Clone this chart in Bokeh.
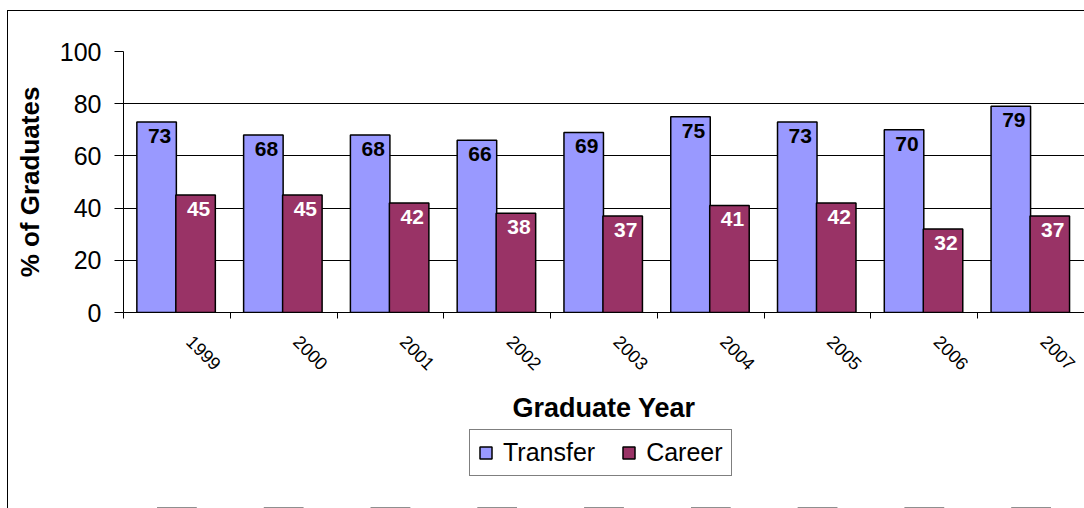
import math
from bokeh.plotting import figure
from bokeh.layouts import column
from bokeh.models import ColumnDataSource, Range1d, FixedTicker, Legend, LegendItem, InlineStyleSheet
from bokeh.core.properties import value
from bokeh.transform import dodge
from bokeh.embed import file_html
from bokeh.resources import INLINE

years = ["1999", "2000", "2001", "2002", "2003", "2004", "2005", "2006", "2007"]
transfer = [73, 68, 68, 66, 69, 75, 73, 70, 79]
career = [45, 45, 42, 38, 37, 41, 42, 32, 37]
series = ["Transfer", "Career"]
colors = ["#9999FF", "#993366"]
y_ticks = [0, 20, 40, 60, 80, 100]

idx = list(range(len(years)))
src = ColumnDataSource(dict(
    idx=idx, years=years, transfer=transfer, career=career,
    t_lbl=[str(v) for v in transfer], c_lbl=[str(v) for v in career],
))

FONT = "Liberation Sans"

p = figure(width=1084, height=426, output_backend="svg", toolbar_location=None,
           x_range=Range1d(-0.5, len(years) - 0.5), y_range=Range1d(0, 100),
           min_border_left=123, min_border_top=51, min_border_bottom=112, min_border_right=0)
p.outline_line_color = None
p.background_fill_color = "white"
p.border_fill_color = "white"
p.stylesheets = [InlineStyleSheet(css=":host::after { content: ''; position: absolute; left: 7px; top: 10px; right: 0; bottom: 0; border-left: 1px solid #000; border-top: 1px solid #000; pointer-events: none; }")]

BW = 0.37
p.vbar(x=dodge("idx", -0.19, range=p.x_range), top="transfer", width=BW, bottom=0, source=src,
       fill_color=colors[0], line_color="black", line_width=1.5)
p.vbar(x=dodge("idx", 0.175, range=p.x_range), top="career", width=BW, bottom=0, source=src,
       fill_color=colors[1], line_color="black", line_width=1.5)

p.text(x=dodge("idx", -0.19, range=p.x_range), y="transfer", text="t_lbl", source=src,
       text_align="center", text_baseline="top", x_offset=3, y_offset=7,
       text_font=value(FONT), text_font_size="21px", text_font_style="bold", text_color="black")
p.text(x=dodge("idx", 0.175, range=p.x_range), y="career", text="c_lbl", source=src,
       text_align="center", text_baseline="top", x_offset=3, y_offset=7,
       text_font=value(FONT), text_font_size="21px", text_font_style="bold", text_color="white")

# axes
label_pos = [i + 0.12 for i in idx]
xa = p.xaxis[0]
xa.ticker = FixedTicker(ticks=label_pos, minor_ticks=[i - 0.5 for i in range(len(years) + 1)])
xa.major_label_overrides = {t: y for t, y in zip(label_pos, years)}
xa.major_tick_line_color = None
xa.major_tick_out = 6
xa.major_tick_in = 0
xa.minor_tick_line_color = "black"
xa.minor_tick_out = 6
xa.minor_tick_in = 0
xa.major_label_orientation = -math.pi / 4
xa.major_label_text_font = FONT
xa.major_label_text_font_size = "18px"
xa.major_label_text_color = "black"
xa.major_label_standoff = 20
xa.axis_label = "Graduate Year"
xa.axis_label_text_font = FONT
xa.axis_label_text_font_size = "27px"
xa.axis_label_text_font_style = "bold"
xa.axis_label_text_color = "black"
xa.axis_label_standoff = 14
xa.axis_line_color = "black"

ya = p.yaxis[0]
ya.ticker = FixedTicker(ticks=y_ticks)
ya.major_tick_out = 9
ya.major_tick_in = 0
ya.minor_tick_line_color = None
ya.major_tick_line_color = "black"
ya.major_label_text_font = FONT
ya.major_label_text_font_size = "25px"
ya.major_label_text_color = "black"
ya.major_label_standoff = 13
ya.axis_label = "% of Graduates"
ya.axis_label_text_font = FONT
ya.axis_label_text_font_size = "26px"
ya.axis_label_text_font_style = "bold"
ya.axis_label_text_color = "black"
ya.axis_label_standoff = 12
ya.axis_line_color = "black"

p.xgrid.grid_line_color = None
p.ygrid.ticker = FixedTicker(ticks=y_ticks)
p.ygrid.grid_line_color = "black"
p.ygrid.grid_line_width = 1

# legend strip below the chart (its bars sit outside the visible range; only the legend shows)
p2 = figure(width=1084, height=82, output_backend="svg", toolbar_location=None,
            x_range=Range1d(-0.5, len(years) - 0.5), y_range=Range1d(200, 201),
            x_axis_location=None, y_axis_location=None,
            min_border_left=0, min_border_right=0, min_border_top=0, min_border_bottom=0)
p2.outline_line_color = None
p2.xgrid.grid_line_color = None
p2.ygrid.grid_line_color = None
p2.background_fill_color = "white"
p2.border_fill_color = "white"
p2.stylesheets = [InlineStyleSheet(css=":host::after { content: ''; position: absolute; left: 7px; top: 0; right: 0; bottom: 0; border-left: 1px solid #000; pointer-events: none; }")]

items = []
for name, col, field in zip(series, colors, ["transfer", "career"]):
    r = p2.vbar(x="idx", top=field, width=BW, bottom=0, source=src,
                fill_color=col, line_color="black", line_width=1.5)
    items.append(LegendItem(label=name, renderers=[r]))

legend = Legend(items=items, orientation="horizontal", location=(346, 32),
                label_text_font=FONT, label_text_font_size="25px", label_text_color="black",
                glyph_width=15, glyph_height=15, label_standoff=10, spacing=26,
                padding=8, margin=0, border_line_color="black", border_line_width=1,
                background_fill_color="white")
p2.add_layout(legend, "center")

layout = column(p, p2, spacing=0)
open("out.html", "w").write(file_html(layout, INLINE))
